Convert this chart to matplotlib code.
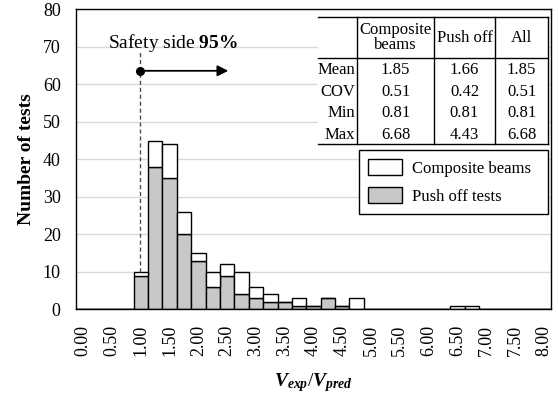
import numpy as np
import matplotlib
matplotlib.use('Agg')
import matplotlib.pyplot as plt
from matplotlib.patches import Patch, Rectangle

plt.rcParams['font.family'] = 'Liberation Serif'
plt.rcParams['mathtext.fontset'] = 'custom'
plt.rcParams['mathtext.rm'] = 'Liberation Serif'
plt.rcParams['mathtext.it'] = 'Liberation Serif:italic:bold'
plt.rcParams['mathtext.bf'] = 'Liberation Serif:bold'

# histogram categories (bin start of Vexp/Vpred)
bins = [0.00, 0.25, 0.50, 0.75, 1.00, 1.25, 1.50, 1.75, 2.00, 2.25, 2.50,
        2.75, 3.00, 3.25, 3.50, 3.75, 4.00, 4.25, 4.50, 4.75, 5.00, 5.25,
        5.50, 5.75, 6.00, 6.25, 6.50, 6.75, 7.00, 7.25, 7.50, 7.75, 8.00]
# counts per bin
push_off = [0, 0, 0, 0, 9, 38, 35, 20, 13, 6, 9, 4, 3, 2, 2, 1, 1, 3, 1, 0,
            0, 0, 0, 0, 0, 0, 0, 0, 0, 0, 0, 0, 0]
composite = [0, 0, 0, 0, 1, 7, 9, 6, 2, 4, 3, 6, 3, 2, 0, 2, 0, 0, 0, 3,
             0, 0, 0, 0, 0, 0, 1, 1, 0, 0, 0, 0, 0]

tick_labels = ['0.00', '0.50', '1.00', '1.50', '2.00', '2.50', '3.00', '3.50',
               '4.00', '4.50', '5.00', '5.50', '6.00', '6.50', '7.00', '7.50', '8.00']

# summary table
col_names = ['Composite\nbeams', 'Push off', 'All']
row_names = ['Mean', 'COV', 'Min', 'Max']
stats = [['1.85', '1.66', '1.85'],
         ['0.51', '0.42', '0.51'],
         ['0.81', '0.81', '0.81'],
         ['6.68', '4.43', '6.68']]

safety_value = 0.99   # 95% safety side marker
safety_top = 68.5
arrow_y = 63.6
arrow_end = 2.52

gray = '#c8c8c8'

fig = plt.figure(figsize=(5.58, 3.96), dpi=100)
W, H = 558, 396
L, R, T, B = 76, 551, 9.3, 309.3
ax = fig.add_axes([L / W, (H - B) / H, (R - L) / W, (B - T) / H])

def pos(x, y):
    # pixel position -> axes fraction
    return (x - L) / (R - L), (B - y) / (B - T)

idx = np.arange(len(bins))
ax.bar(idx, push_off, width=1.0, color=gray, edgecolor='black', lw=1, zorder=2)
ax.bar(idx, composite, width=1.0, bottom=push_off, color='white',
       edgecolor='black', lw=1, zorder=2)

ax.set_xlim(-0.5, len(bins) - 0.5)
ax.set_ylim(0, 80)
ax.set_yticks(np.arange(0, 81, 10))
ax.set_xticks(idx[::2])
ax.set_xticklabels(tick_labels, rotation=90)
ax.tick_params(axis='both', length=0, labelsize=13)
ax.tick_params(axis='x', pad=11)
ax.tick_params(axis='y', pad=11)
ax.yaxis.grid(True, color='#d9d9d9', lw=1)
ax.set_axisbelow(True)
for s in ax.spines.values():
    s.set_color('black')
    s.set_linewidth(1)

ax.set_ylabel('Number of tests', fontsize=14, fontweight='bold', va='center')
ax.yaxis.set_label_coords(pos(27, 0)[0], 0.5)
ax.set_xlabel(r'$V_{exp}/V_{pred}$', fontsize=14, va='center')
ax.xaxis.set_label_coords(0.5, pos(0, 383)[1])

# safety side marker
sx = safety_value / 0.25
ax.plot([sx, sx], [10, safety_top], color='#505050', lw=1,
        linestyle=(0, (3, 2)), zorder=3)
ax.plot([sx], [arrow_y], 'o', color='black', ms=5.5, zorder=4)
ax.annotate('', xy=(arrow_end / 0.25, arrow_y), xytext=(sx, arrow_y),
            arrowprops=dict(arrowstyle='-|>', color='black', lw=1.3,
                            mutation_scale=16, shrinkA=0, shrinkB=0), zorder=4)
ax.text(*pos(108, 43), r'Safety side $\mathbf{95\%}$', transform=ax.transAxes,
        fontsize=14, ha='left', va='center')

# table
tx = [318, 357, 434, 495, 548]
ty = [17, 58, 144]
row_y = [70, 92, 113, 135]
x0, y0 = pos(tx[0], ty[2])
x1, y1 = pos(tx[-1], ty[0])
ax.add_patch(Rectangle((x0, y0), x1 - x0, y1 - y0, transform=ax.transAxes,
                       facecolor='white', edgecolor='none', zorder=5))
for yy in ty:
    a = pos(tx[0], yy)[1]
    ax.plot([pos(tx[0], yy)[0], pos(tx[-1], yy)[0]], [a, a], color='black',
            lw=1, transform=ax.transAxes, zorder=6, clip_on=False)
for xx in tx[1:]:
    ax.plot([pos(xx, 0)[0]] * 2, [pos(0, ty[0])[1], pos(0, ty[-1])[1]],
            color='black', lw=1, transform=ax.transAxes, zorder=6, clip_on=False)
for j, name in enumerate(col_names):
    cx = (tx[j + 1] + tx[j + 2]) / 2
    ax.text(*pos(cx, (ty[0] + ty[1]) / 2), name, transform=ax.transAxes,
            ha='center', va='center', fontsize=12, linespacing=0.95, zorder=7)
for i, name in enumerate(row_names):
    ax.text(*pos(tx[1] - 2, row_y[i]), name, transform=ax.transAxes,
            ha='right', va='center', fontsize=12, zorder=7)
    for j in range(3):
        cx = (tx[j + 1] + tx[j + 2]) / 2
        ax.text(*pos(cx, row_y[i]), stats[i][j], transform=ax.transAxes,
                ha='center', va='center', fontsize=12, zorder=7)

# legend
lx0, ly0 = pos(359, 217)
lx1, ly1 = pos(548, 150)
handles = [Patch(facecolor='white', edgecolor='black', lw=1),
           Patch(facecolor=gray, edgecolor='black', lw=1)]
leg = ax.legend(handles, ['Composite beams', 'Push off tests'],
                loc='upper left', bbox_to_anchor=(lx0, ly0, lx1 - lx0, ly1 - ly0),
                mode='expand', borderaxespad=0, fontsize=12, handlelength=2.05,
                handleheight=1.1, handletextpad=0.6, labelspacing=0.64,
                borderpad=0.55, fancybox=False, framealpha=1, edgecolor='black')
leg.get_frame().set_linewidth(1)
leg.set_zorder(8)

fig.savefig('out.png', dpi=100)
